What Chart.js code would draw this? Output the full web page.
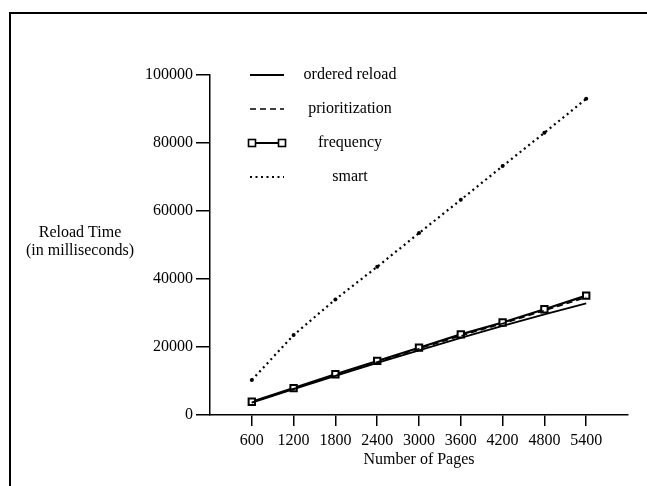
<!DOCTYPE html>
<html>
<head>
<meta charset="utf-8">
<script src="https://cdn.jsdelivr.net/npm/chart.js@4.4.0/dist/chart.umd.min.js"></script>
<style>
  html, body { margin: 0; padding: 0; background: #fff; }
  #wrap { position: relative; width: 647px; height: 486px; overflow: hidden; }
  #frame { position: absolute; left: 9px; top: 12px; width: 700px; height: 600px; border-top: 2px solid #000; border-left: 2px solid #000; }
  canvas { position: absolute; left: 0; top: 0; }
</style>
</head>
<body>
<div id="wrap">
  <div id="frame"></div>
  <canvas id="c" width="647" height="486"></canvas>
</div>
<script>
const pages = [600, 1200, 1800, 2400, 3000, 3600, 4200, 4800, 5400];
const orderedReload = [3600, 7600, 11500, 15300, 19000, 22700, 26200, 29600, 32800];
const prioritization = [3700, 7700, 11700, 15600, 19500, 23300, 26900, 30700, 34600];
const frequency = [3900, 7900, 12000, 15900, 19800, 23700, 27200, 31100, 35100];
const smart = [10300, 23500, 34000, 43600, 53500, 63300, 73200, 83000, 93000];
const yTicks = [0, 20000, 40000, 60000, 80000, 100000];
const seriesNames = ['ordered reload', 'prioritization', 'frequency', 'smart'];
const yTitle = ['Reload Time', '(in milliseconds)'];
const xTitle = 'Number of Pages';

const FONT = '"Liberation Serif", "Times New Roman", serif';
const toPts = arr => arr.map((v, i) => ({ x: pages[i], y: v }));

const datasets = [
  { label: seriesNames[0], data: toPts(orderedReload), borderColor: '#000', borderWidth: 1.8, pointRadius: 0, fill: false },
  { label: seriesNames[1], data: toPts(prioritization), borderColor: '#000', borderWidth: 1.5, borderDash: [6, 4], pointRadius: 0, fill: false },
  { label: seriesNames[2], data: toPts(frequency), borderColor: '#000', borderWidth: 2.2, pointStyle: 'rect', pointRadius: 4.5, pointBorderWidth: 2, pointBackgroundColor: '#fff', pointBorderColor: '#000', fill: false },
  { label: seriesNames[3], data: toPts(smart), borderColor: '#000', borderWidth: 2.2, borderDash: [2, 3.5], pointRadius: 2, pointBackgroundColor: '#000', pointBorderWidth: 0, fill: false }
];

const overlay = {
  id: 'overlay',
  afterDraw(chart) {
    const ctx = chart.ctx;
    const ys = chart.scales.y;
    ctx.save();
    ctx.fillStyle = '#000';
    ctx.strokeStyle = '#000';
    ctx.font = '16px ' + FONT;
    ctx.textAlign = 'center';
    ctx.textBaseline = 'middle';
    // y axis title (horizontal)
    const tx = 80;
    ctx.fillText(yTitle[0], tx, 233);
    ctx.fillText(yTitle[1], tx, 251);
    // legend
    const top = ys.getPixelForValue(100000);
    const step = (ys.getPixelForValue(80000) - top) / 2;
    const x0 = 250, x1 = 284, textX = 350;
    seriesNames.forEach((name, i) => {
      const y = top + step * i;
      const ds = datasets[i];
      ctx.lineWidth = ds.borderWidth;
      ctx.setLineDash(ds.borderDash || []);
      ctx.beginPath();
      ctx.moveTo(x0, y);
      ctx.lineTo(x1, y);
      ctx.stroke();
      ctx.setLineDash([]);
      if (i === 2) {
        [x0 + 2, x1 - 2].forEach(px => {
          ctx.fillStyle = '#fff';
          ctx.fillRect(px - 3.5, y - 3.5, 7, 7);
          ctx.lineWidth = 1.6;
          ctx.strokeRect(px - 3.5, y - 3.5, 7, 7);
        });
      }
      ctx.fillStyle = '#000';
      ctx.fillText(name, textX, y);
    });
    ctx.restore();
  }
};

new Chart(document.getElementById('c'), {
  type: 'line',
  data: { datasets },
  options: {
    responsive: false,
    animation: false,
    devicePixelRatio: 1,
    layout: { padding: { top: 75, right: 19, bottom: 17, left: 0 } },
    plugins: { legend: { display: false }, tooltip: { enabled: false } },
    elements: { line: { tension: 0 } },
    scales: {
      x: {
        type: 'linear',
        min: 0,
        max: 6000,
        afterBuildTicks: s => { s.ticks = pages.map(v => ({ value: v })); },
        afterFit: s => { s.height = 54; },
        grid: { display: true, drawOnChartArea: false, drawTicks: true, tickLength: 11, color: '#000', lineWidth: 1.5 },
        border: { display: true, color: '#000', width: 1.5 },
        ticks: { color: '#000', font: { family: FONT, size: 16 }, padding: 5, maxRotation: 0, autoSkip: false, callback: v => String(v) },
        title: { display: true, text: xTitle, color: '#000', font: { family: FONT, size: 16 }, padding: { top: 2, bottom: 0 } }
      },
      y: {
        type: 'linear',
        min: 0,
        max: 100000,
        afterBuildTicks: s => { s.ticks = yTicks.map(v => ({ value: v })); },
        afterFit: s => { s.width = 210; },
        grid: { display: true, drawOnChartArea: false, drawTicks: true, tickLength: 14, color: '#000', lineWidth: 1.5 },
        border: { display: true, color: '#000', width: 1.5 },
        ticks: { color: '#000', font: { family: FONT, size: 16 }, padding: 3, callback: v => String(v) }
      }
    }
  },
  plugins: [overlay]
});
</script>
</body>
</html>
